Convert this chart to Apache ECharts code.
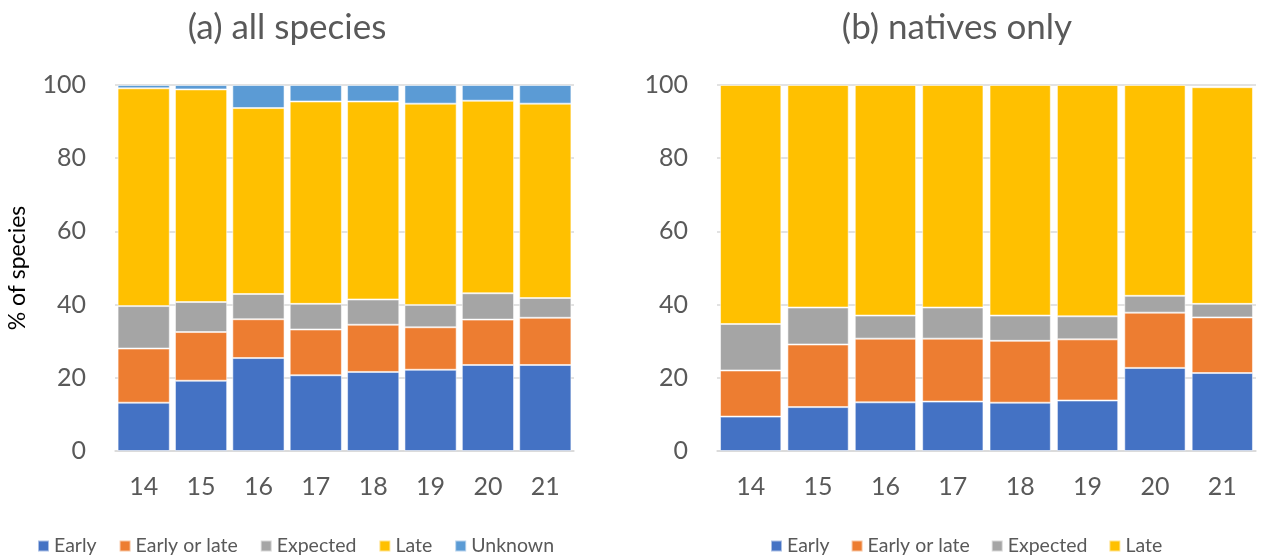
<!DOCTYPE html>
<html>
<head>
<meta charset="utf-8">
<script src="https://cdn.jsdelivr.net/npm/echarts@6/dist/echarts.min.js"></script>
<style>
  html, body { margin: 0; padding: 0; background: #fff; }
  #chart { width: 1264px; height: 558px; }
</style>
</head>
<body>
<div id="chart"></div>
<script>
// Years (categories shared by both panels)
const years = ['14', '15', '16', '17', '18', '19', '20', '21'];
const yTicks = [0, 20, 40, 60, 80, 100];

// (a) all species — % of species in each arrival class
const allEarly     = [13.2, 19.2, 25.4, 20.7, 21.6, 22.2, 23.5, 23.5];
const allEarlyLate = [14.8, 13.3, 10.6, 12.5, 12.9, 11.6, 12.4, 12.9];
const allExpected  = [11.6,  8.2,  6.9,  7.0,  6.9,  6.1,  7.2,  5.4];
const allLate      = [59.5, 58.1, 50.8, 55.3, 54.1, 55.0, 52.6, 53.1];
const allUnknown   = [ 0.9,  1.2,  6.3,  4.5,  4.5,  5.1,  4.3,  5.1];

// (b) natives only
const natEarly     = [ 9.4, 12.0, 13.3, 13.5, 13.2, 13.8, 22.7, 21.3];
const natEarlyLate = [12.6, 17.1, 17.4, 17.2, 16.9, 16.7, 15.1, 15.2];
const natExpected  = [12.7, 10.1,  6.3,  8.5,  6.9,  6.3,  4.6,  3.7];
const natLate      = [65.3, 60.8, 63.0, 60.8, 63.0, 63.2, 57.6, 59.2];

const seriesNames = ['Early', 'Early or late', 'Expected', 'Late', 'Unknown'];
const colors = {
  'Early': '#4472C4',
  'Early or late': '#ED7D31',
  'Expected': '#A5A5A5',
  'Late': '#FFC000',
  'Unknown': '#5B9BD5'
};

const FONT = 'Lato, "Open Sans", sans-serif';
const TEXT = '#595959';
const GRID_LINE = '#D9D9D9';

function xAxis(gridIndex) {
  return {
    type: 'category', gridIndex, data: years,
    axisLine: { lineStyle: { color: GRID_LINE, width: 1.5 } },
    axisTick: { show: false },
    axisLabel: { color: TEXT, fontFamily: FONT, fontSize: 25, margin: 23 }
  };
}
function yAxis(gridIndex, withName) {
  const ax = {
    type: 'value', gridIndex, min: yTicks[0], max: yTicks[yTicks.length - 1],
    interval: yTicks[1] - yTicks[0],
    axisLine: { show: false }, axisTick: { show: false },
    splitLine: { lineStyle: { color: GRID_LINE, width: 1.5 } },
    axisLabel: { color: TEXT, fontFamily: FONT, fontSize: 25, margin: 29 }
  };
  if (withName) {
    Object.assign(ax, {
      name: '% of species', nameLocation: 'middle', nameGap: 86,
      nameTextStyle: { color: '#000', fontFamily: FONT, fontSize: 23 }
    });
  }
  return ax;
}
function bar(name, data, idx) {
  return {
    name, type: 'bar', stack: 'panel' + idx, data,
    xAxisIndex: idx, yAxisIndex: idx,
    barCategoryGap: '9%',
    itemStyle: { color: colors[name], borderColor: 'rgba(255,255,255,0.55)', borderWidth: 1 },
    emphasis: { disabled: true }
  };
}

const chart = echarts.init(document.getElementById('chart'), null, { renderer: 'canvas' });
chart.setOption({
  animation: false,
  grid: [
    { left: 115, right: 690, top: 85, bottom: 107 },
    { left: 717, right: 8, top: 85, bottom: 107 }
  ],
  xAxis: [xAxis(0), xAxis(1)],
  yAxis: [yAxis(0, true), yAxis(1, false)],
  legend: [
    {
      data: seriesNames, left: 32, top: 531, itemWidth: 11, itemHeight: 11, itemGap: 22,
      icon: 'rect', selectedMode: false,
      textStyle: { color: TEXT, fontFamily: FONT, fontSize: 19.5 }
    },
    {
      data: seriesNames.slice(0, 4), left: 765, top: 531, itemWidth: 11, itemHeight: 11, itemGap: 21,
      icon: 'rect', selectedMode: false,
      textStyle: { color: TEXT, fontFamily: FONT, fontSize: 19.5 }
    }
  ],
  graphic: [
    { type: 'text', x: 287, y: 28,
      style: { text: '(a) all species', font: '35px ' + FONT, fill: TEXT, textAlign: 'center', textVerticalAlign: 'middle' } },
    { type: 'text', x: 957, y: 28,
      style: { text: '(b) natives only', font: '35px ' + FONT, fill: TEXT, textAlign: 'center', textVerticalAlign: 'middle' } }
  ],
  series: [
    bar('Early', allEarly, 0),
    bar('Early or late', allEarlyLate, 0),
    bar('Expected', allExpected, 0),
    bar('Late', allLate, 0),
    bar('Unknown', allUnknown, 0),
    bar('Early', natEarly, 1),
    bar('Early or late', natEarlyLate, 1),
    bar('Expected', natExpected, 1),
    bar('Late', natLate, 1)
  ]
});
</script>
</body>
</html>
